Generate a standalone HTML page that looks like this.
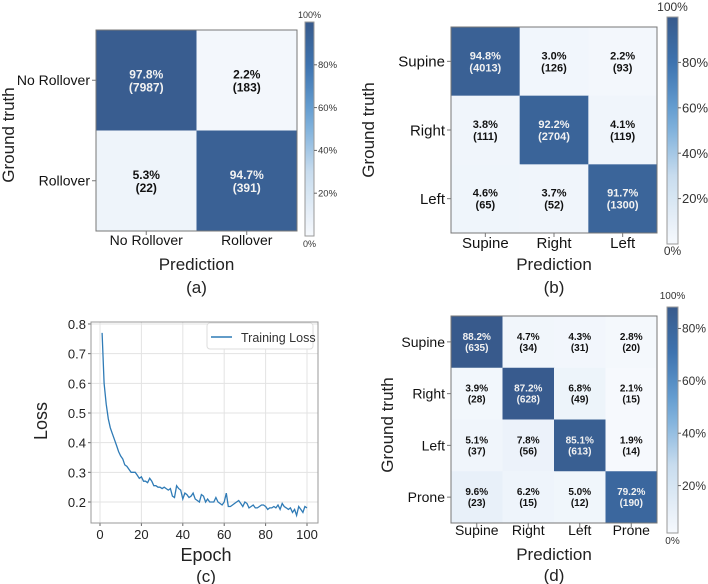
<!DOCTYPE html>
<html><head><meta charset="utf-8">
<style>
html,body{margin:0;padding:0;background:#fff;}
svg{display:block;font-family:"Liberation Sans",sans-serif;}
</style></head>
<body>
<svg id="fig" width="708" height="584" viewBox="0 0 708 584">
</svg>
<script>
// ---------- data ----------
const aLabels = ["No Rollover","Rollover"];
const aPct = [[97.8,2.2],[5.3,94.7]];
const aCnt = [[7987,183],[22,391]];
const bLabels = ["Supine","Right","Left"];
const bPct = [[94.8,3.0,2.2],[3.8,92.2,4.1],[4.6,3.7,91.7]];
const bCnt = [[4013,126,93],[111,2704,119],[65,52,1300]];
const dLabels = ["Supine","Right","Left","Prone"];
const dPct = [[88.2,4.7,4.3,2.8],[3.9,87.2,6.8,2.1],[5.1,7.8,85.1,1.9],[9.6,6.2,5.0,79.2]];
const dCnt = [[635,34,31,20],[28,628,49,15],[37,56,613,14],[23,15,12,190]];
const lossEpochs = [];
for (let i = 1; i <= 100; i++) lossEpochs.push(i);
const lossValues = [0.77,0.60,0.53,0.48,0.45,0.43,0.41,0.39,0.37,0.355,0.345,0.325,0.32,0.31,0.30,0.30,0.30,0.29,0.28,0.285,
0.27,0.27,0.265,0.28,0.27,0.255,0.255,0.25,0.25,0.245,0.25,0.245,0.24,0.245,0.22,0.215,0.255,0.245,0.24,0.21,
0.23,0.225,0.215,0.22,0.23,0.21,0.205,0.20,0.225,0.22,0.20,0.21,0.20,0.20,0.20,0.215,0.20,0.195,0.19,0.20,
0.23,0.185,0.185,0.19,0.195,0.20,0.205,0.195,0.185,0.20,0.195,0.18,0.185,0.19,0.18,0.18,0.185,0.19,0.19,0.185,
0.175,0.18,0.18,0.185,0.18,0.19,0.175,0.195,0.185,0.18,0.175,0.18,0.165,0.175,0.155,0.185,0.175,0.165,0.185,0.18];
const lossXTicks = [0,20,40,60,80,100];
const lossYTicks = [0.2,0.3,0.4,0.5,0.6,0.7,0.8];
const cbTicks = [0,20,40,60,80,100];

// ---------- helpers ----------
const NS = "http://www.w3.org/2000/svg";
const svg = document.getElementById('fig');
function el(tag, attrs, parent, text){
  const e = document.createElementNS(NS, tag);
  for (const k in attrs) e.setAttribute(k, attrs[k]);
  if (text !== undefined) e.textContent = text;
  (parent || svg).appendChild(e);
  return e;
}
const stops = [[0,[246,249,253]],[0.3,[200,220,238]],[0.55,[111,168,216]],[0.78,[63,118,178]],[1,[56,90,140]]];
function cmap(t){
  t = Math.max(0, Math.min(1, t));
  for (let i = 1; i < stops.length; i++){
    if (t <= stops[i][0]){
      const a = stops[i-1], b = stops[i];
      const f = (t - a[0]) / (b[0] - a[0]);
      const c = a[1].map((v, j) => Math.round(v + (b[1][j] - v) * f));
      return `rgb(${c[0]},${c[1]},${c[2]})`;
    }
  }
  return 'rgb(56,90,140)';
}

function confusion(cfg){
  const g = el('g', {});
  
  
  const n = cfg.labels.length;
  const cw = (cfg.x1 - cfg.x0) / n, ch = (cfg.y1 - cfg.y0) / n;
  const xs = i => cfg.x0 + cw * i, ys = i => cfg.y0 + ch * i;
  for (let r = 0; r < n; r++){
    for (let c = 0; c < n; c++){
      const v = cfg.pct[r][c];
      const t = (v - cfg.vmin) / (cfg.vmax - cfg.vmin);
      const rect = el('rect', {x: xs(c), y: ys(r), width: cw + 0.5, height: ch + 0.5, fill: cmap(t)}, g);
      
      
      const col = t > 0.5 ? '#f2f2f2' : '#111';
      const cx = xs(c) + cw / 2, cy = ys(r) + ch / 2;
      const t1 = el('text', {x: cx, y: cy - 2, 'text-anchor': 'middle', 'font-size': cfg.cellFs, 'font-weight': 'bold', fill: col}, g, v.toFixed(1) + '%');
      
      
      const t2 = el('text', {x: cx, y: cy + cfg.cellFs - 1, 'text-anchor': 'middle', 'font-size': cfg.cellFs, 'font-weight': 'bold', fill: col}, g, '(' + cfg.cnt[r][c] + ')');
      
      
    }
  }
  el('rect', {x: cfg.x0, y: cfg.y0, width: cfg.x1 - cfg.x0, height: cfg.y1 - cfg.y0, fill: 'none', stroke: '#777', 'stroke-width': 1}, g);
  for (let i = 0; i < n; i++){
    const yt = el('text', {x: cfg.x0 - 6, y: ys(i) + ch / 2 + cfg.tickFs * 0.35, 'text-anchor': 'end', 'font-size': cfg.tickFs, fill: '#111'}, g, cfg.labels[i]);
    
    
    el('line', {x1: cfg.x0 - 4, x2: cfg.x0, y1: ys(i) + ch / 2, y2: ys(i) + ch / 2, stroke: '#777'}, g);
    const xt = el('text', {x: xs(i) + cw / 2, y: cfg.y1 + cfg.xtOff, 'text-anchor': 'middle', 'font-size': cfg.tickFs, fill: '#111'}, g, cfg.labels[i]);
    
    
    el('line', {x1: xs(i) + cw / 2, x2: xs(i) + cw / 2, y1: cfg.y1, y2: cfg.y1 + 4, stroke: '#777'}, g);
  }
  const yl = el('text', {x: cfg.gtX, y: cfg.gtY, 'text-anchor': 'middle', 'font-size': cfg.axFs, fill: '#222', transform: `rotate(-90 ${cfg.gtX} ${cfg.gtY})`}, g, 'Ground truth');
  
  
  const xl = el('text', {x: (cfg.x0 + cfg.x1) / 2, y: cfg.predY, 'text-anchor': 'middle', 'font-size': cfg.axFs, fill: '#222'}, g, 'Prediction');
  
  
  const cap = el('text', {x: (cfg.x0 + cfg.x1) / 2, y: cfg.capY, 'text-anchor': 'middle', 'font-size': 17, fill: '#222'}, g, cfg.cap);
  
  
  // colorbar
  const cb = cfg.cb;
  const defs = el('defs', {}, g);
  const gid = 'grad-' + cfg.name;
  const grad = el('linearGradient', {id: gid, x1: 0, y1: 1, x2: 0, y2: 0}, defs);
  for (let k = 0; k <= 10; k++){
    const v = k / 10;
    const pv = cb.vmin + (cb.vmax - cb.vmin) * v;
    el('stop', {offset: v, 'stop-color': cmap((pv - cfg.vmin) / (cfg.vmax - cfg.vmin))}, grad);
  }
  const bar = el('rect', {x: cb.x, y: cb.y0, width: cb.w, height: cb.y1 - cb.y0, fill: `url(#${gid})`, stroke: '#999', 'stroke-width': 1}, g);
  
  
  const cy = v => cb.y1 - (v - cb.vmin) / (cb.vmax - cb.vmin) * (cb.y1 - cb.y0);
  for (const tv of cbTicks){
    let y, x, fs, anchor = 'start';
    if (tv === 0){ y = cb.y1 + 11; x = cb.x + cb.w / 2; fs = cb.endFs; anchor = 'middle'; }
    else if (tv === 100){ y = cb.topY; x = cb.x + cb.w / 2; fs = cb.endFs; anchor = 'middle'; }
    else {
      y = cy(tv) + cb.fs * 0.35; x = cb.x + cb.w + 4; fs = cb.fs;
      el('line', {x1: cb.x + cb.w, x2: cb.x + cb.w + 3, y1: cy(tv), y2: cy(tv), stroke: '#666'}, g);
    }
    const tl = el('text', {x: x, y: y, 'text-anchor': anchor, 'font-size': fs, fill: '#333'}, g, tv + '%');
    
    
  }
}

confusion({name: 'panel-a', labels: aLabels, pct: aPct, cnt: aCnt, x0: 96, x1: 297, y0: 30, y1: 231, vmin: 0, vmax: 100,
  cellFs: 12, tickFs: 14, xtOff: 14, axFs: 17, gtX: 14, gtY: 135, predY: 270, capY: 293, cap: '(a)',
  cb: {x: 305, w: 9, y0: 22, y1: 236, vmin: 0, vmax: 100, fs: 9.5, endFs: 9, topY: 18}});
confusion({name: 'panel-b', labels: bLabels, pct: bPct, cnt: bCnt, x0: 451, x1: 657, y0: 27, y1: 233, vmin: 0, vmax: 100,
  cellFs: 11, tickFs: 15, xtOff: 15, axFs: 17, gtX: 374, gtY: 130, predY: 270, capY: 293, cap: '(b)',
  cb: {x: 667, w: 11, y0: 17, y1: 244, vmin: 0, vmax: 100, fs: 13, endFs: 12, topY: 11}});
confusion({name: 'panel-d', labels: dLabels, pct: dPct, cnt: dCnt, x0: 451, x1: 657, y0: 316, y1: 523, vmin: 1.9, vmax: 88.2,
  cellFs: 10, tickFs: 14, xtOff: 12, axFs: 17, gtX: 393, gtY: 425, predY: 560, capY: 581, cap: '(d)',
  cb: {x: 667, w: 11, y0: 307, y1: 533, vmin: 1.9, vmax: 88.2, fs: 12, endFs: 10, topY: 299}});

// ---------- loss chart ----------
(function(){
  const g = el('g', {});
  
  
  const X0 = 91, X1 = 318, Y0 = 322, Y1 = 523;
  const sx = v => 100 + v * 2.07;
  const sy = v => 502 - (v - 0.2) * 296.7;
  el('rect', {x: X0, y: Y0, width: X1 - X0, height: Y1 - Y0, fill: '#fff'}, g);
  for (const t of lossXTicks){
    el('line', {x1: sx(t), x2: sx(t), y1: Y0, y2: Y1, stroke: '#e3e3e3'}, g);
    el('line', {x1: sx(t), x2: sx(t), y1: Y1, y2: Y1 + 3, stroke: '#666'}, g);
    const tl = el('text', {x: sx(t), y: Y1 + 16, 'text-anchor': 'middle', 'font-size': 13, fill: '#222'}, g, String(t));
    
    
  }
  for (const t of lossYTicks){
    el('line', {x1: X0, x2: X1, y1: sy(t), y2: sy(t), stroke: '#e3e3e3'}, g);
    el('line', {x1: X0 - 3, x2: X0, y1: sy(t), y2: sy(t), stroke: '#666'}, g);
    const tl = el('text', {x: X0 - 5, y: sy(t) + 5, 'text-anchor': 'end', 'font-size': 13, fill: '#222'}, g, t.toFixed(1));
    
    
  }
  el('rect', {x: X0, y: Y0, width: X1 - X0, height: Y1 - Y0, fill: 'none', stroke: '#999'}, g);
  const pts = lossEpochs.map((e, i) => sx(e).toFixed(1) + ',' + sy(lossValues[i]).toFixed(1)).join(' ');
  const line = el('polyline', {points: pts, fill: 'none', stroke: '#2f7bb6', 'stroke-width': 1.3}, g);
  
  
  const lg = el('g', {}, g);
  
  
  el('rect', {x: 207, y: 323, width: 106, height: 26, rx: 3, fill: '#fff', stroke: '#ddd'}, lg);
  el('line', {x1: 211, x2: 232, y1: 337, y2: 337, stroke: '#2f7bb6', 'stroke-width': 1.5}, lg);
  el('text', {x: 241, y: 342, 'font-size': 12.5, fill: '#333'}, lg, 'Training Loss');
  const yl = el('text', {x: 47, y: 421, 'text-anchor': 'middle', 'font-size': 18, fill: '#222', transform: 'rotate(-90 47 421)'}, g, 'Loss');
  
  
  const xl = el('text', {x: 206, y: 561, 'text-anchor': 'middle', 'font-size': 18, fill: '#222'}, g, 'Epoch');
  
  
  const cap = el('text', {x: 206, y: 582, 'text-anchor': 'middle', 'font-size': 17, fill: '#222'}, g, '(c)');
  
  
})();
</script>
</body></html>
